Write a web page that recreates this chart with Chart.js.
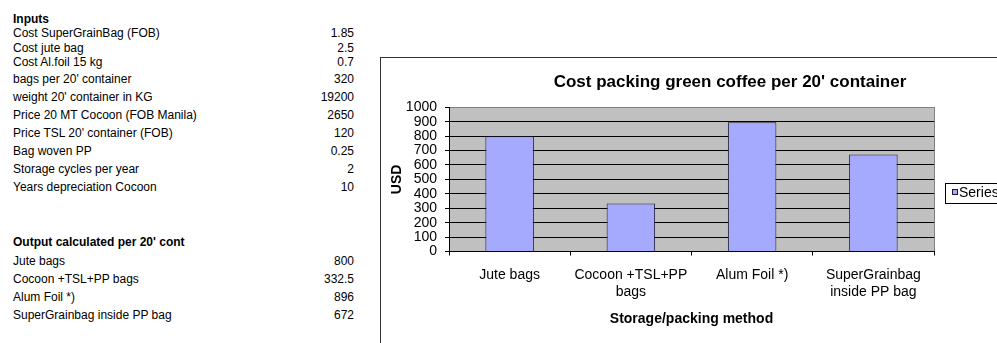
<!DOCTYPE html>
<html>
<head>
<meta charset="utf-8">
<script src="https://cdn.jsdelivr.net/npm/chart.js@4.4.1/dist/chart.umd.min.js"></script>
<style>
  html, body { margin: 0; padding: 0; background: #fff; }
  body { width: 997px; height: 343px; overflow: hidden; position: relative; font-family: 'Liberation Sans', Arial, sans-serif; color: #000; }
  .row { position: absolute; left: 13px; width: 341px; height: 14px; line-height: 14px; font-size: 12px; white-space: nowrap; }
  .row .v { position: absolute; right: 0; top: 0; }
  .head { font-weight: bold; }
  #frame { position: absolute; left: 380px; top: 57px; width: 720px; height: 320px; border-left: 1px solid #333; border-top: 1px solid #333; }
  #chart { position: absolute; left: 381px; top: 58px; }
</style>
</head>
<body>
<div id="table"></div>
<div id="frame"></div>
<canvas id="chart" width="698" height="300"></canvas>
<script>
// spreadsheet values
const inputNames = ['Cost SuperGrainBag (FOB)', 'Cost jute bag', 'Cost Al.foil 15 kg', "bags per 20' container",
  "weight 20' container in KG", 'Price 20 MT Cocoon (FOB Manila)', "Price TSL 20' container (FOB)", 'Bag woven PP',
  'Storage cycles per year', 'Years depreciation Cocoon'];
const inputValues = ['1.85', '2.5', '0.7', '320', '19200', '2650', '120', '0.25', '2', '10'];

const methods = ['Jute bags', 'Cocoon +TSL+PP bags', 'Alum Foil *)', 'SuperGrainbag inside PP bag'];
const methodTickLabels = ['Jute bags', ['Cocoon +TSL+PP', 'bags'], 'Alum Foil *)', ['SuperGrainbag', 'inside PP bag']];
const costPer20ft = [800, 332.5, 896, 672];

// left table (row centres as in the sheet)
const inputRowY = [33, 48, 62, 79, 97, 115, 133, 151, 169, 187];
const outputRowY = [261, 279, 297, 315];
const table = document.getElementById('table');
function addRow(y, label, value, cls) {
  const d = document.createElement('div');
  d.className = 'row' + (cls ? ' ' + cls : '');
  d.style.top = (y - 7) + 'px';
  d.textContent = label;
  if (value !== undefined) {
    const s = document.createElement('span');
    s.className = 'v';
    s.textContent = value;
    d.appendChild(s);
  }
  table.appendChild(d);
}
addRow(19, 'Inputs', undefined, 'head');
inputNames.forEach((n, i) => addRow(inputRowY[i], n, inputValues[i]));
addRow(242, "Output calculated per 20' cont", undefined, 'head');
methods.forEach((m, i) => addRow(outputRowY[i], m, String(costPer20ft[i])));

const barFill = '#a6aafe';
const barEdge = '#1a1a30';

// grey plot area with grey border, like Excel
const plotBg = {
  id: 'plotBg',
  beforeDraw(chart) {
    const { ctx, chartArea: a } = chart;
    ctx.save();
    ctx.fillStyle = '#c0c0c0';
    ctx.fillRect(a.left, a.top, a.right - a.left, a.bottom - a.top);
    ctx.strokeStyle = '#808080';
    ctx.lineWidth = 1;
    ctx.strokeRect(Math.round(a.left) + 0.5, Math.round(a.top) + 0.5, Math.round(a.right - a.left), Math.round(a.bottom - a.top));
    ctx.restore();
  }
};

// boxed legend on the right
const boxLegend = {
  id: 'boxLegend',
  afterDraw(chart) {
    const { ctx } = chart;
    const ds = chart.data.datasets[0];
    ctx.save();
    ctx.fillStyle = '#fff';
    ctx.fillRect(564, 125, 70, 20);
    ctx.strokeStyle = '#000';
    ctx.lineWidth = 1;
    ctx.strokeRect(564.5, 125.5, 70, 20);
    ctx.fillStyle = ds.backgroundColor;
    ctx.fillRect(571, 131, 6, 6);
    ctx.strokeStyle = ds.borderColor;
    ctx.strokeRect(571.5, 131.5, 5, 5);
    ctx.fillStyle = '#000';
    ctx.font = "14px 'Liberation Sans', Arial, sans-serif";
    ctx.textBaseline = 'middle';
    ctx.fillText(ds.label, 578, 135.5);
    ctx.restore();
  }
};

Chart.defaults.font.family = "'Liberation Sans', Arial, sans-serif";
Chart.defaults.color = '#000';

new Chart(document.getElementById('chart'), {
  type: 'bar',
  data: {
    labels: methodTickLabels,
    datasets: [{
      label: 'Series1',
      data: costPer20ft,
      backgroundColor: barFill,
      borderColor: barEdge,
      borderWidth: 1,
      barPercentage: 0.4,
      categoryPercentage: 1
    }]
  },
  options: {
    responsive: false,
    animation: false,
    layout: { padding: 0 },
    plugins: {
      legend: { display: false },
      tooltip: { enabled: false },
      title: {
        display: true,
        text: "Cost packing green coffee per 20' container",
        font: { size: 17, weight: 'bold' },
        padding: { top: 13.8, bottom: 15.1 }
      }
    },
    scales: {
      x: {
        offset: true,
        grid: { display: true, drawOnChartArea: false, drawTicks: true, tickLength: 4, offset: true, color: '#000' },
        border: { color: '#000', width: 1 },
        ticks: { font: { size: 14, lineHeight: 1.15 }, padding: 12, maxRotation: 0, autoSkip: false },
        title: { display: true, text: 'Storage/packing method', font: { size: 14, weight: 'bold' }, padding: { top: 0, bottom: 30 } },
        afterFit(scale) { scale.height = 106.5; }
      },
      y: {
        min: 0,
        max: 1000,
        grid: {
          color: ctx => (ctx.tick && ctx.tick.value === 1000 ? '#808080' : '#000'),
          tickColor: '#000',
          tickLength: 4,
          lineWidth: 1
        },
        border: { color: '#000', width: 1 },
        ticks: { stepSize: 100, autoSkip: false, font: { size: 14 }, padding: 8, callback: v => String(v) },
        title: { display: true, text: 'USD', font: { size: 14, weight: 'bold' }, padding: { top: 7.6, bottom: 0 } },
        afterFit(scale) { scale.width = 68; }
      },
      // empty right-hand axis that keeps room for the legend box
      spacer: {
        type: 'linear',
        position: 'right',
        display: true,
        grid: { display: false },
        border: { display: false },
        ticks: { display: false },
        afterFit(scale) { scale.width = 145; }
      }
    }
  },
  plugins: [plotBg, boxLegend]
});
</script>
</body>
</html>
